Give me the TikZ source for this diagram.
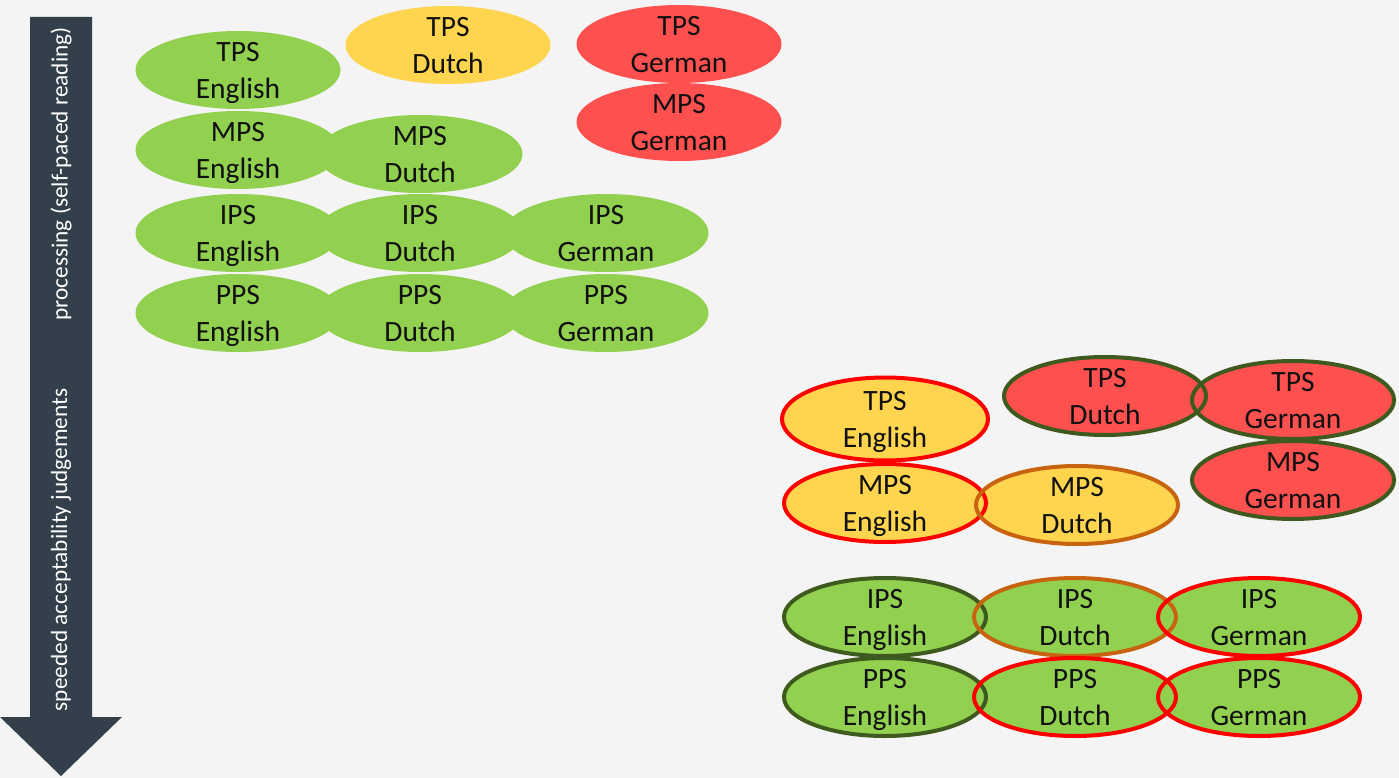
\documentclass[tikz,border=0pt]{standalone}
\usepackage{fontspec}
\setmainfont{Carlito}
\usetikzlibrary{shapes.geometric}
\definecolor{bg}{HTML}{F4F4F4}
\definecolor{arr}{HTML}{333F4A}
\definecolor{gr}{HTML}{92D050}
\definecolor{ye}{HTML}{FFD54F}
\definecolor{rd}{HTML}{FF5050}
\definecolor{ored}{HTML}{FF0000}
\definecolor{odg}{HTML}{3F5A1E}
\definecolor{oor}{HTML}{C8640F}
\definecolor{txt}{HTML}{111111}
\newcommand\twol[2]{\smash{\raisebox{8.5pt}{\begin{tabular}[t]{@{}c@{}}#1\\#2\end{tabular}}}}
\tikzset{
  ell/.style={ellipse, minimum width=205pt, minimum height=78pt, inner sep=0pt,
    text=txt, font=\fontsize{29.5}{37}\selectfont},
  oell/.style={ellipse, minimum width=202pt, minimum height=78pt, inner sep=0pt,
    text=txt, font=\fontsize{29.5}{37}\selectfont},
  ring/.style={ellipse, minimum width=202pt, minimum height=78pt, inner sep=0pt, line width=4pt},
  ringb/.style={ellipse, minimum width=206pt, minimum height=83pt, inner sep=0pt, line width=4pt},
  gfill/.style={fill=gr}, yfill/.style={fill=ye}, rfill/.style={fill=rd},
  lab/.style={rotate=90, text=white, font=\fontsize{23.3}{28}\selectfont}
}
\begin{document}
\begin{tikzpicture}[x=1pt,y=-1pt]
\fill[bg] (0,0) rectangle (1399,778);
\useasboundingbox (0,0) rectangle (1399,778);
% arrow
\fill[arr] (30,17) -- (92,17) -- (92,717) -- (122,717) -- (61,776) -- (0,717) -- (30,717) -- cycle;
\node[lab] (proc) at (61,174) {processing (self-paced reading)};
\node[lab] (sacc) at (61,550) {speeded acceptability judgements};
% top-left group
\node[ell,gfill] (aTE) at (238,70) {\twol{TPS}{English}};
\node[ell,yfill] (aTD) at (448,45) {\twol{TPS}{Dutch}};
\node[ell,rfill] (aTG) at (679,44) {\twol{TPS}{German}};
\node[ell,rfill] (aMG) at (679,122) {\twol{MPS}{German}};
\node[ell,gfill] (aME) at (238,150) {\twol{MPS}{English}};
\node[ell,gfill] (aMD) at (420,154) {\twol{MPS}{Dutch}};
\node[ell,gfill] (aIE) at (238,233) {\twol{IPS}{English}};
\node[ell,gfill] (aID) at (420,233) {\twol{IPS}{Dutch}};
\node[ell,gfill] (aIG) at (606,233) {\twol{IPS}{German}};
\node[ell,gfill] (aPE) at (238,313) {\twol{PPS}{English}};
\node[ell,gfill] (aPD) at (420,313) {\twol{PPS}{Dutch}};
\node[ell,gfill] (aPG) at (606,313) {\twol{PPS}{German}};
% bottom-right group: fills
\node[ell,yfill,minimum width=206pt,minimum height=83pt] (bTE) at (885,419) {\twol{TPS}{English}};
\node[oell,rfill] (bTD) at (1105,396) {\twol{TPS}{Dutch}};
\node[oell,rfill] (bTG) at (1293,400) {\twol{TPS}{German}};
\node[oell,rfill] (bMG) at (1293,480) {\twol{MPS}{German}};
\node[oell,yfill] (bME) at (885,503) {\twol{MPS}{English}};
\node[oell,yfill] (bMD) at (1077,505) {\twol{MPS}{Dutch}};
\node[oell,gfill] (bIE) at (885,617) {\twol{IPS}{English}};
\node[oell,gfill] (bID) at (1075,617) {\twol{IPS}{Dutch}};
\node[oell,gfill] (bIG) at (1259,617) {\twol{IPS}{German}};
\node[oell,gfill] (bPE) at (885,697) {\twol{PPS}{English}};
\node[oell,gfill] (bPD) at (1075,697) {\twol{PPS}{Dutch}};
\node[oell,gfill] (bPG) at (1259,697) {\twol{PPS}{German}};
% bottom-right group: outlines
\node[ringb,draw=ored] (rTE) at (bTE.center) {};
\node[ring,draw=odg] (rTD) at (bTD.center) {};
\node[ring,draw=odg] (rTG) at (bTG.center) {};
\node[ring,draw=odg] (rMG) at (bMG.center) {};
\node[ring,draw=ored] (rME) at (bME.center) {};
\node[ring,draw=oor] (rMD) at (bMD.center) {};
\node[ring,draw=odg] (rIE) at (bIE.center) {};
\node[ring,draw=oor] (rID) at (bID.center) {};
\node[ring,draw=ored] (rIG) at (bIG.center) {};
\node[ring,draw=odg] (rPE) at (bPE.center) {};
\node[ring,draw=ored] (rPD) at (bPD.center) {};
\node[ring,draw=ored] (rPG) at (bPG.center) {};
\end{tikzpicture}
\end{document}
